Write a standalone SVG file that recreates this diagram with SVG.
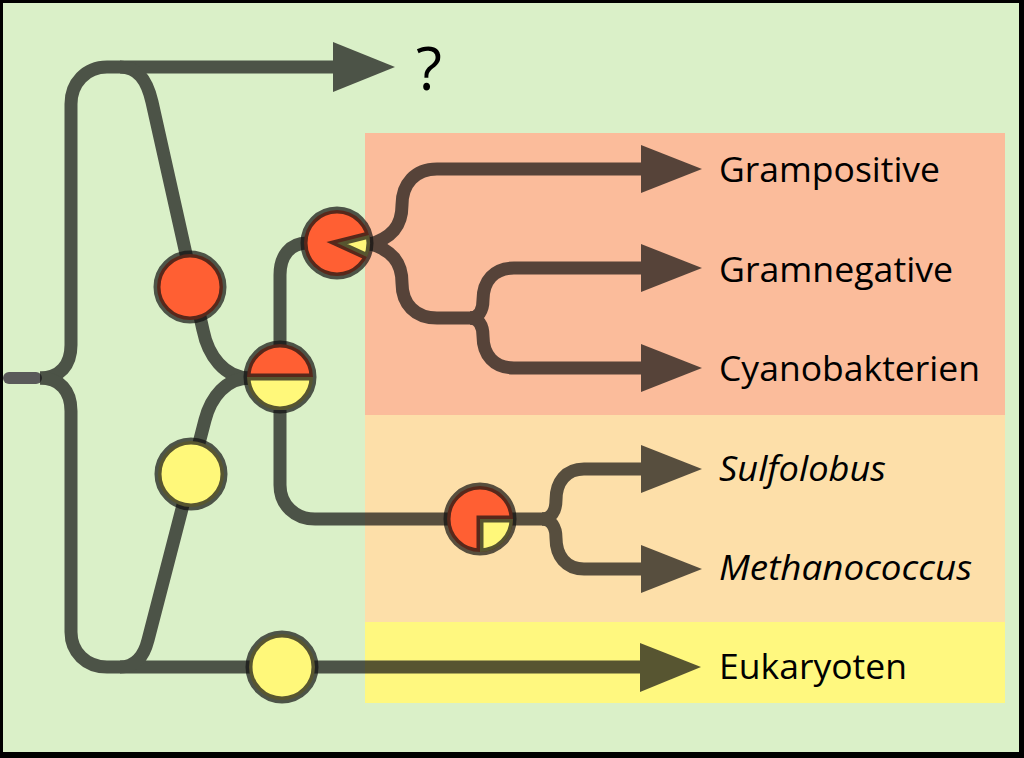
<svg xmlns="http://www.w3.org/2000/svg" width="1024" height="758" viewBox="0 0 1024 758">
<style>
.ln{fill:none;stroke:#111;stroke-width:13;stroke-linejoin:round}
.ah{fill:#111;stroke:none}
.ring{fill:none;stroke:#111;stroke-width:7;stroke-linejoin:miter}
.red{fill:#ff5f33}
.yel{fill:#fff87a}
.lbl{font-family:"Open Sans","Noto Sans",sans-serif;font-size:35px;fill:#000}
.it{font-style:italic}
</style>
<rect x="0" y="0" width="1024" height="758" fill="#000"/>
<rect x="3" y="3" width="1016" height="749" fill="#daf0c8"/>
<rect x="365" y="133" width="640" height="282" fill="#fbbc9b"/>
<rect x="365" y="415" width="640" height="207" fill="#fddfa9"/>
<rect x="365" y="622" width="640" height="81" fill="#fff87f"/>

<line x1="9" y1="378" x2="36" y2="378" stroke="#5a5a5a" stroke-width="12" stroke-linecap="round"/>

<g id="connectors" opacity="0.7">
  <path class="ln" d="M 40,378 C 60,378 71,365 71,345 L 71,104 C 71,83 86,67 107,67 L 340,67"/>
  <polygon class="ah" points="333,42 395,67 333,92"/>
  <path class="ln" d="M 120,67 C 138,67 147,80 152,102 L 203,330 C 208,355 224,378 250,378"/>
  <path class="ln" d="M 40,378 C 60,378 71,391 71,411 L 71,632 C 71,652 86,667 107,667 L 645,667"/>
  <polygon class="ah" points="640,643 701,667 640,692"/>
  <path class="ln" d="M 120,667 C 136,667 144,656 148,640 L 205,420 C 211,397 226,378 250,378"/>
  <path class="ln" d="M 280,345 L 280,275 C 280,256 290,243 307,243"/>
  <path class="ln" d="M 280,410 L 280,485 C 280,505 295,519 315,519 L 450,519"/>
  <path class="ln" d="M 368,245 C 392,238 402,226 402,205 C 402,184 415,169 437,169 L 645,169"/>
  <polygon class="ah" points="641,145 702,169 641,193"/>
  <path class="ln" d="M 368,243 C 392,250 402,262 402,283 C 402,304 415,318 437,318 L 478,318"/>
  <path class="ln" d="M 470,318 C 478,318 483,311 483,300 C 483,281 494,268 514,268 L 645,268"/>
  <polygon class="ah" points="641,244 702,268 641,292"/>
  <path class="ln" d="M 470,318 C 478,318 483,325 483,336 C 483,355 494,368 514,368 L 645,368"/>
  <polygon class="ah" points="641,344 702,368 641,392"/>
  <path class="ln" d="M 510,519 L 548,519"/>
  <path class="ln" d="M 542,519 C 551,519 556,511 556,500 C 556,482 566,469 584,469 L 645,469"/>
  <polygon class="ah" points="641,445 702,469 641,493"/>
  <path class="ln" d="M 542,519 C 551,519 556,527 556,538 C 556,556 566,569 584,569 L 645,569"/>
  <polygon class="ah" points="641,545 702,569 641,593"/>
</g>

<g id="node-red1">
  <circle class="red" cx="190" cy="287" r="33"/>
  <circle class="ring" cx="190" cy="287" r="33" opacity="0.7"/>
</g>
<g id="node-yel1">
  <circle class="yel" cx="191" cy="474" r="33"/>
  <circle class="ring" cx="191" cy="474" r="33" opacity="0.7"/>
</g>
<g id="node-half">
  <path class="red" d="M 247,377 A 33,33 0 0 1 313,377 Z"/>
  <path class="yel" d="M 247,377 A 33,33 0 0 0 313,377 Z"/>
  <g opacity="0.7">
    <circle class="ring" cx="280" cy="377" r="33"/>
    <line class="ring" x1="249" y1="377" x2="311" y2="377"/>
  </g>
</g>
<g id="node-pie">
  <circle class="red" cx="337" cy="243" r="33"/>
  <path class="yel" d="M 337,243 L 369,235 A 33,33 0 0 1 367,257 Z"/>
  <g opacity="0.7">
    <circle class="ring" cx="337" cy="243" r="33"/>
    <path class="ring" d="M 367,235.5 L 337,243 L 365.5,256"/>
  </g>
</g>
<g id="node-archaea">
  <circle class="red" cx="480" cy="519" r="33"/>
  <path class="yel" d="M 480,519 L 513,519 A 33,33 0 0 1 480,552 Z"/>
  <g opacity="0.7">
    <circle class="ring" cx="480" cy="519" r="33"/>
    <path class="ring" d="M 511,519 L 480,519 L 480,550"/>
  </g>
</g>
<g id="node-yel2">
  <circle class="yel" cx="282" cy="667" r="33"/>
  <circle class="ring" cx="282" cy="667" r="33" opacity="0.7"/>
</g>

<g id="labels">
  <text class="lbl" x="416" y="90" style="font-size:60px">?</text>
  <text class="lbl" x="719" y="182" textLength="221" lengthAdjust="spacingAndGlyphs">Grampositive</text>
  <text class="lbl" x="719" y="282" textLength="234" lengthAdjust="spacingAndGlyphs">Gramnegative</text>
  <text class="lbl" x="719" y="381" textLength="261" lengthAdjust="spacingAndGlyphs">Cyanobakterien</text>
  <text class="lbl it" x="719" y="481" textLength="167" lengthAdjust="spacingAndGlyphs">Sulfolobus</text>
  <text class="lbl it" x="719" y="580" textLength="253" lengthAdjust="spacingAndGlyphs">Methanococcus</text>
  <text class="lbl" x="719" y="679" textLength="188" lengthAdjust="spacingAndGlyphs">Eukaryoten</text>
</g>
</svg>
